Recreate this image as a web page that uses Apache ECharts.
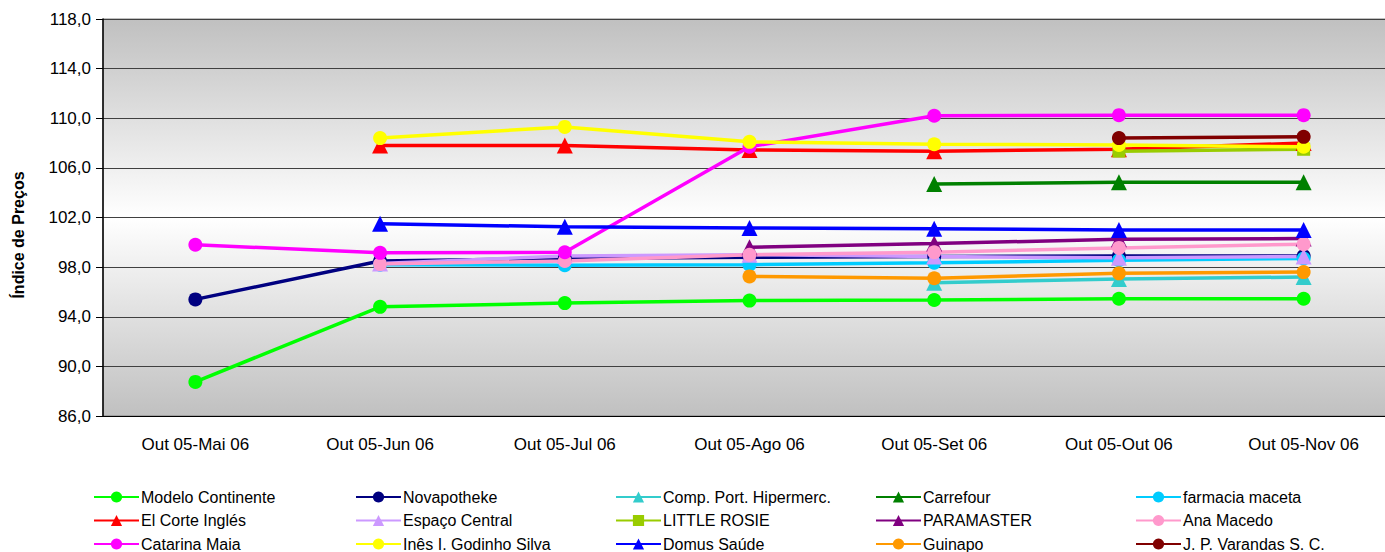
<!DOCTYPE html>
<html>
<head>
<meta charset="utf-8">
<script src="https://cdn.jsdelivr.net/npm/echarts@6/dist/echarts.min.js"></script>
<style>html,body{margin:0;padding:0;background:#fff;overflow:hidden}#c{width:1396px;height:552px}</style>
</head>
<body>
<div id="c"></div>
<script>
const categories = ['Out 05-Mai 06','Out 05-Jun 06','Out 05-Jul 06','Out 05-Ago 06','Out 05-Set 06','Out 05-Out 06','Out 05-Nov 06'];
const yTicks = {min: 86, max: 118, interval: 4};

const modeloContinente = [88.75, 94.8, 95.1, 95.3, 95.35, 95.45, 95.45];
const novapotheke      = [95.4, 98.5, 98.7, 98.8, 98.85, 98.9, 98.9];
const compPortHiper    = [null, null, null, null, 96.75, 97.05, 97.2];
const carrefour        = [null, null, null, null, 104.7, 104.85, 104.85];
const farmaciaMaceta   = [null, 98.2, 98.15, 98.2, 98.35, 98.55, 98.7];
const elCorteIngles    = [null, 107.8, 107.8, 107.45, 107.35, 107.5, 108.0];
const espacoCentral    = [null, 98.3, 98.9, 99.0, 98.85, 98.75, 98.85];
const littleRosie      = [null, null, null, null, null, 107.35, 107.5];
const paramaster       = [null, null, null, 99.6, 99.9, 100.25, 100.3];
const anaMacedo        = [null, 98.25, 98.5, 99.0, 99.2, 99.55, 99.85];
const catarinaMaia     = [99.8, 99.15, 99.2, 107.7, 110.2, 110.25, 110.25];
const inesGodinho      = [null, 108.4, 109.3, 108.1, 107.9, 107.85, 107.7];
const domusSaude       = [null, 101.5, 101.25, 101.15, 101.1, 101.0, 101.0];
const guinapo          = [null, null, null, 97.25, 97.1, 97.5, 97.6];
const jpVarandas       = [null, null, null, null, null, 108.4, 108.5];

const seriesDefs = [
  ['Modelo Continente', modeloContinente, '#00ff00', 'circle'],
  ['Novapotheke', novapotheke, '#000080', 'circle'],
  ['Comp. Port. Hipermerc.', compPortHiper, '#33cccc', 'triangle'],
  ['Carrefour', carrefour, '#008000', 'triangle'],
  ['farmacia maceta', farmaciaMaceta, '#00ccff', 'circle'],
  ['El Corte Inglés', elCorteIngles, '#ff0000', 'triangle'],
  ['Espaço Central', espacoCentral, '#cc99ff', 'triangle'],
  ['LITTLE ROSIE', littleRosie, '#99cc00', 'rect'],
  ['PARAMASTER', paramaster, '#800080', 'triangle'],
  ['Ana Macedo', anaMacedo, '#ff99cc', 'circle'],
  ['Catarina Maia', catarinaMaia, '#ff00ff', 'circle'],
  ['Inês I. Godinho Silva', inesGodinho, '#ffff00', 'circle'],
  ['Domus Saúde', domusSaude, '#0000ff', 'triangle'],
  ['Guinapo', guinapo, '#ff9900', 'circle'],
  ['J. P. Varandas S. C.', jpVarandas, '#800000', 'circle']
];

const FONT = 'Liberation Sans';
const chart = echarts.init(document.getElementById('c'), null, {renderer: 'svg'});

const legendCols = [93, 355, 615, 875, 1135];
const legends = seriesDefs.map((s, i) => ({
  data: [s[0]],
  left: legendCols[i % 5],
  top: 489 + Math.floor(i / 5) * 23.5,
  orient: 'horizontal',
  itemWidth: 45,
  itemHeight: 14,
  padding: 0,
  textStyle: {fontFamily: FONT, fontSize: 16, color: '#000', padding: [0,0,0,-3]}
}));

chart.setOption({
  animation: false,
  backgroundColor: '#fff',
  grid: {
    left: 103, right: 0, top: 19, bottom: 136,
    show: true,
    borderColor: '#808080', borderWidth: 1,
    backgroundColor: {type: 'linear', x: 0, y: 0, x2: 0, y2: 1,
      colorStops: [{offset: 0, color: '#c0c0c0'}, {offset: 0.5, color: '#ffffff'}, {offset: 1, color: '#c0c0c0'}]}
  },
  legend: legends,
  graphic: [{
    type: 'text', rotation: Math.PI/2, x: 18, y: 235,
    style: {text: 'Índice de Preços', fontFamily: FONT, fontSize: 16, fontWeight: 'bold', fill: '#000', align: 'center', verticalAlign: 'middle'}
  }],
  xAxis: {
    type: 'category', data: categories, boundaryGap: true,
    axisLine: {lineStyle: {color: '#000', width: 1}},
    axisTick: {show: false},
    axisLabel: {fontFamily: FONT, fontSize: 17, color: '#000', margin: 20}
  },
  yAxis: {
    type: 'value', min: yTicks.min, max: yTicks.max, interval: yTicks.interval,
    axisLine: {show: true, lineStyle: {color: '#000', width: 1.5}},
    axisTick: {show: true, length: 7, lineStyle: {color: '#000'}},
    axisLabel: {fontFamily: FONT, fontSize: 17, color: '#000', margin: 12,
      formatter: v => v.toFixed(1).replace('.', ',')},
    splitLine: {lineStyle: {color: '#404040', width: 1}}
  },
  series: seriesDefs.map(s => ({
    name: s[0], type: 'line', data: s[1],
    symbol: s[3], symbolSize: s[3] === 'rect' ? 13 : (s[3] === 'triangle' ? 16 : 14),
    showSymbol: true,
    lineStyle: {color: s[2], width: 3.5},
    itemStyle: {color: s[2], borderWidth: 0},
    connectNulls: false
  }))
});
</script>
</body>
</html>
